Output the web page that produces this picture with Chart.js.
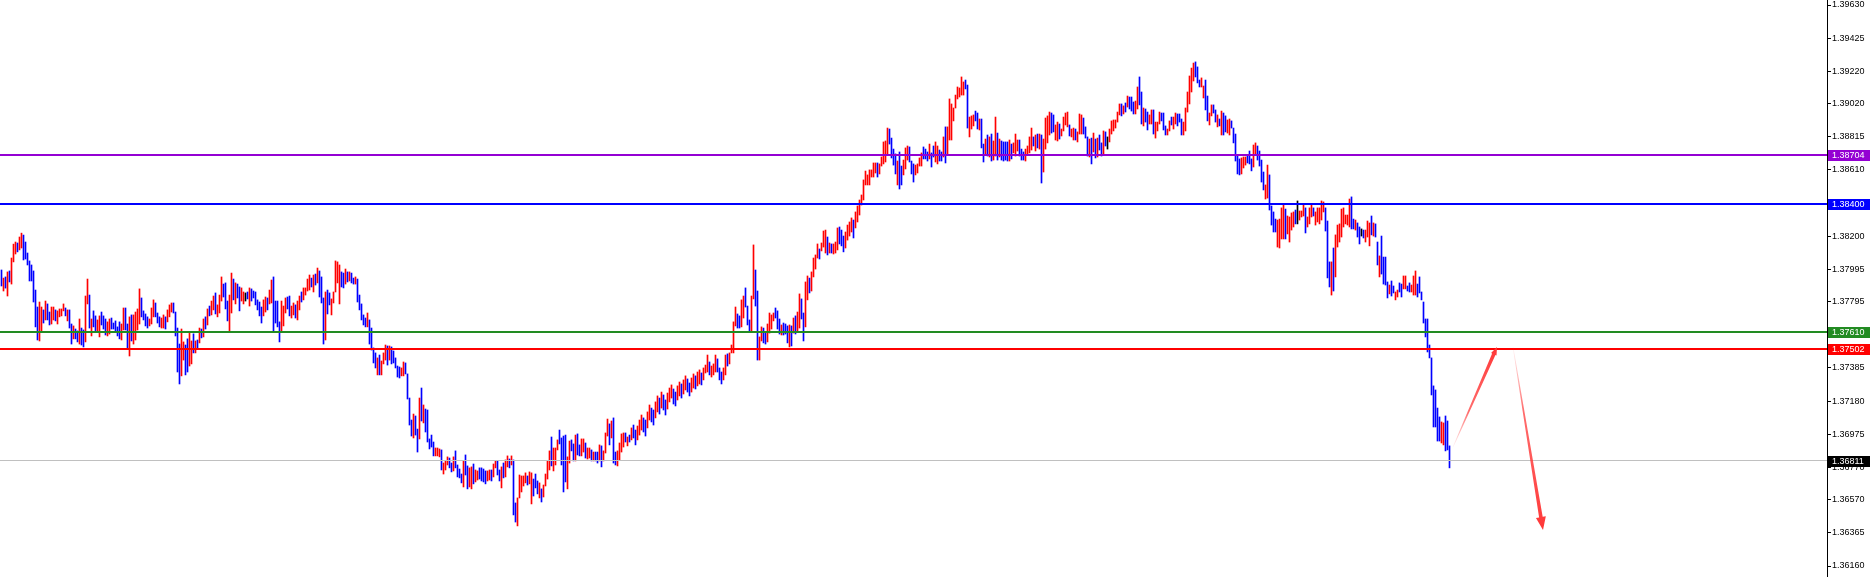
<!DOCTYPE html>
<html>
<head>
<meta charset="utf-8">
<script src="https://cdn.jsdelivr.net/npm/chart.js@4.4.1/dist/chart.umd.min.js"></script>
<style>
html,body{margin:0;padding:0;background:#fff;}
canvas{display:block;}
</style>
</head>
<body>
<canvas id="c" width="1873" height="577"></canvas>
<script>
// ---- data: bar highs / lows (price), direction (1 up, 0 down, 2 doji) ----
const highs = [
1.37991,1.37941,1.37948,1.37979,1.37985,1.38065,1.38151,1.38164,1.38158,1.38195,
1.38219,1.38207,1.38164,1.38096,1.38047,1.38022,1.37985,1.37867,1.37762,1.37793,
1.37762,1.37744,1.37799,1.37781,1.37731,1.37762,1.37762,1.37744,1.37738,1.37750,
1.37750,1.37781,1.37756,1.37744,1.37744,1.37657,1.37645,1.37626,1.37614,1.37688,
1.37632,1.37620,1.37830,1.37935,1.37836,1.37688,1.37738,1.37707,1.37682,1.37707,
1.37731,1.37707,1.37688,1.37670,1.37688,1.37694,1.37663,1.37676,1.37639,1.37670,
1.37657,1.37756,1.37756,1.37657,1.37701,1.37713,1.37713,1.37731,1.37750,1.37874,
1.37818,1.37738,1.37719,1.37701,1.37688,1.37756,1.37806,1.37787,1.37725,1.37701,
1.37694,1.37713,1.37701,1.37744,1.37775,1.37787,1.37787,1.37731,1.37632,1.37533,
1.37626,1.37546,1.37527,1.37565,1.37608,1.37552,1.37596,1.37552,1.37558,1.37632,
1.37626,1.37688,1.37701,1.37750,1.37768,
1.37799,1.37830,1.37849,1.37775,1.37836,1.37948,1.37904,1.37911,1.37799,1.37836,
1.37972,1.37935,1.37911,1.37904,1.37886,1.37880,1.37855,1.37849,1.37855,1.37880,
1.37874,1.37861,1.37855,1.37806,1.37793,1.37762,1.37806,1.37824,1.37818,1.37867,
1.37929,1.37948,1.37799,1.37799,1.37670,1.37799,1.37768,1.37818,1.37824,1.37830,
1.37768,1.37787,1.37775,1.37799,1.37830,1.37855,1.37880,1.37880,1.37935,1.37960,
1.37941,1.37960,1.37966,1.38003,1.37985,1.37948,1.37818,1.37855,1.37867,1.37849,
1.37812,1.37855,1.38047,1.38041,1.38022,1.37979,1.37972,1.37997,1.37979,1.37979,
1.37972,1.37941,1.37948,1.37935,1.37836,1.37781,1.37713,1.37694,1.37725,1.37682,
1.37632,1.37509,1.37478,1.37447,1.37465,1.37428,1.37478,1.37527,1.37521,1.37521,
1.37515,1.37490,1.37447,1.37397,1.37391,1.37385,1.37422,1.37416,1.37348,1.37199,
1.37063,1.37100,1.37088,1.37007,1.37199,
1.37261,1.37156,1.37131,1.37125,1.36946,1.36970,1.36927,1.36890,1.36890,1.36884,
1.36878,1.36797,1.36810,1.36835,1.36828,1.36797,1.36835,1.36872,1.36785,1.36760,
1.36729,1.36810,1.36847,1.36779,1.36767,1.36773,1.36791,1.36754,1.36748,1.36767,
1.36767,1.36760,1.36748,1.36748,1.36754,1.36754,1.36791,1.36810,1.36810,1.36754,
1.36773,1.36797,1.36816,1.36841,1.36822,1.36841,1.36816,1.36550,1.36581,1.36723,
1.36717,1.36717,1.36736,1.36717,1.36742,1.36736,1.36698,1.36729,1.36686,1.36674,
1.36637,1.36661,1.36729,1.36810,1.36872,1.36958,1.36890,1.36890,1.36940,1.37001,
1.36952,1.36964,1.36970,1.36835,1.36933,1.36940,1.36915,1.36970,1.36977,1.36909,
1.36946,1.36946,1.36921,1.36890,1.36890,1.36878,1.36865,1.36865,1.36865,1.36909,
1.36903,1.36872,1.36983,1.37069,1.37039,1.37057,1.37076,1.36865,1.36872,1.36921,
1.36977,1.36983,1.36983,1.36958,1.36970,
1.37014,1.37032,1.37001,1.37026,1.37063,1.37094,1.37076,1.37063,1.37113,1.37156,
1.37137,1.37125,1.37175,1.37212,1.37199,1.37236,1.37218,1.37187,1.37230,1.37261,
1.37280,1.37255,1.37236,1.37274,1.37298,1.37286,1.37311,1.37336,1.37317,1.37292,
1.37323,1.37348,1.37336,1.37360,1.37373,1.37354,1.37385,1.37403,1.37465,1.37422,
1.37397,1.37410,1.37465,1.37441,1.37385,1.37360,1.37385,1.37465,1.37472,1.37478,
1.37527,1.37670,1.37762,1.37719,1.37707,1.37806,1.37830,1.37880,1.37768,1.37682,
1.37830,1.38146,1.37991,1.37861,1.37577,1.37639,1.37632,1.37608,1.37657,1.37725,
1.37713,1.37725,1.37756,1.37738,1.37688,1.37651,1.37663,1.37657,1.37645,1.37651,
1.37645,1.37694,1.37707,1.37731,1.37843,1.37812,1.37725,1.37917,1.37954,1.37941,
1.37979,1.38065,1.38084,1.38152,1.38121,1.38158,1.38232,1.38238,1.38195,1.38158,
1.38152,1.38152,1.38164,1.38251,1.38257,
1.38238,1.38201,1.38226,1.38269,1.38288,1.38313,1.38300,1.38350,1.38387,1.38424,
1.38455,1.38548,1.38603,1.38579,1.38610,1.38610,1.38653,1.38653,1.38653,1.38647,
1.38690,1.38783,1.38789,1.38869,1.38863,1.38807,1.38739,1.38709,1.38665,1.38721,
1.38634,1.38671,1.38746,1.38758,1.38752,1.38665,1.38647,1.38640,1.38647,1.38684,
1.38715,1.38752,1.38739,1.38721,1.38770,1.38715,1.38758,1.38783,1.38758,1.38733,
1.38721,1.38814,1.38876,1.38876,1.39049,1.39018,1.38993,1.39073,1.39123,1.39117,
1.39185,1.39154,1.39166,1.39135,1.38937,1.38944,1.38950,1.38974,1.38962,1.38925,
1.38925,1.38770,1.38801,1.38826,1.38814,1.38832,1.38789,1.38937,1.38838,1.38801,
1.38789,1.38783,1.38783,1.38783,1.38795,1.38770,1.38777,1.38832,1.38795,1.38795,
1.38739,1.38721,1.38739,1.38758,1.38814,1.38869,1.38814,1.38826,1.38832,1.38832,
1.38826,1.38801,1.38931,1.38944,1.38968,
1.38962,1.38950,1.38888,1.38906,1.38894,1.38863,1.38937,1.38962,1.38968,1.38888,
1.38863,1.38869,1.38863,1.38845,1.38956,1.38950,1.38931,1.38876,1.38814,1.38801,
1.38807,1.38838,1.38801,1.38807,1.38826,1.38777,1.38851,1.38845,1.38814,1.38863,
1.38913,1.38919,1.38919,1.38968,1.39018,1.39018,1.39006,1.39024,1.39067,1.39061,
1.39061,1.39030,1.39036,1.39123,1.39185,1.39092,1.38993,1.38987,1.38968,1.38950,
1.38981,1.38981,1.38906,1.38906,1.38968,1.38962,1.38962,1.38882,1.38863,1.38913,
1.38937,1.38937,1.38962,1.38956,1.38956,1.38925,1.38906,1.38993,1.39092,1.39191,
1.39240,1.39271,1.39278,1.39247,1.39166,1.39179,1.39129,1.39166,1.39067,1.38962,
1.39012,1.39012,1.38981,1.38950,1.38925,1.38974,1.38962,1.38944,1.38919,1.38925,
1.38913,1.38869,1.38832,1.38696,1.38678,1.38684,1.38690,1.38690,1.38702,1.38727,
1.38678,1.38764,1.38777,1.38758,1.38727,
1.38671,1.38597,1.38517,1.38640,1.38579,1.38387,1.38350,1.38306,1.38300,1.38306,
1.38375,1.38399,1.38368,1.38325,1.38319,1.38344,1.38350,1.38362,1.38418,1.38356,
1.38356,1.38399,1.38375,1.38319,1.38375,1.38399,1.38375,1.38350,1.38375,1.38375,
1.38418,1.38412,1.38375,1.38294,1.38041,1.38041,1.38127,1.38208,1.38269,1.38276,
1.38368,1.38375,1.38331,1.38331,1.38430,1.38443,1.38306,1.38300,1.38282,1.38257,
1.38245,1.38238,1.38238,1.38294,1.38282,1.38325,1.38282,1.38276,1.38164,1.38078,
1.38201,1.38071,1.38071,1.37917,1.37898,1.37923,1.37892,1.37855,1.37867,1.37911,
1.37904,1.37954,1.37954,1.37892,1.37911,1.37898,1.37954,1.37985,1.37904,1.37948,
1.37855,1.37793,1.37688,1.37688,1.37527,1.37447,1.37274,1.37249,1.37137,1.37082,
1.37051,1.37045,1.37088,1.37057,1.36903
];
const lows = [
1.37892,1.37861,1.37879,1.37830,1.37917,1.37904,1.38041,1.38090,1.38103,1.38115,
1.38127,1.38053,1.38059,1.38022,1.37923,1.37923,1.37793,1.37639,1.37558,1.37552,
1.37608,1.37663,1.37682,1.37682,1.37651,1.37657,1.37682,1.37676,1.37657,1.37701,
1.37707,1.37738,1.37707,1.37676,1.37632,1.37533,1.37565,1.37565,1.37546,1.37533,
1.37527,1.37515,1.37546,1.37781,1.37632,1.37583,1.37639,1.37614,1.37608,1.37577,
1.37651,1.37626,1.37589,1.37583,1.37595,1.37626,1.37626,1.37614,1.37583,1.37565,
1.37558,1.37620,1.37620,1.37509,1.37459,1.37552,1.37533,1.37558,1.37620,1.37657,
1.37701,1.37682,1.37645,1.37632,1.37645,1.37657,1.37701,1.37701,1.37663,1.37639,
1.37632,1.37632,1.37626,1.37670,1.37701,1.37731,1.37725,1.37583,1.37360,1.37286,
1.37336,1.37434,1.37342,1.37360,1.37397,1.37410,1.37478,1.37478,1.37509,1.37540,
1.37571,1.37577,1.37626,1.37651,1.37707,
1.37713,1.37744,1.37719,1.37701,1.37725,1.37799,1.37824,1.37750,1.37676,1.37614,
1.37725,1.37806,1.37781,1.37818,1.37738,1.37799,1.37781,1.37799,1.37812,1.37768,
1.37799,1.37818,1.37775,1.37744,1.37707,1.37663,1.37707,1.37731,1.37744,1.37781,
1.37787,1.37614,1.37663,1.37639,1.37546,1.37608,1.37645,1.37725,1.37750,1.37707,
1.37694,1.37713,1.37694,1.37682,1.37744,1.37793,1.37806,1.37836,1.37861,1.37867,
1.37886,1.37855,1.37898,1.37911,1.37824,1.37787,1.37533,1.37558,1.37719,1.37775,
1.37713,1.37787,1.37855,1.37911,1.37781,1.37886,1.37880,1.37904,1.37917,1.37923,
1.37911,1.37904,1.37904,1.37793,1.37744,1.37682,1.37651,1.37639,1.37639,1.37533,
1.37496,1.37416,1.37385,1.37342,1.37342,1.37342,1.37410,1.37434,1.37403,1.37434,
1.37410,1.37416,1.37385,1.37329,1.37323,1.37336,1.37336,1.37348,1.37193,1.37032,
1.36964,1.36952,1.36970,1.36865,1.36946,
1.37057,1.37045,1.36989,1.36927,1.36884,1.36896,1.36841,1.36841,1.36841,1.36835,
1.36754,1.36729,1.36754,1.36785,1.36767,1.36742,1.36748,1.36767,1.36711,1.36705,
1.36674,1.36649,1.36723,1.36637,1.36649,1.36637,1.36668,1.36680,1.36692,1.36698,
1.36686,1.36680,1.36668,1.36686,1.36692,1.36686,1.36711,1.36767,1.36723,1.36686,
1.36643,1.36705,1.36711,1.36773,1.36767,1.36785,1.36476,1.36432,1.36408,1.36581,
1.36618,1.36655,1.36674,1.36661,1.36668,1.36544,1.36593,1.36643,1.36606,1.36581,
1.36556,1.36587,1.36655,1.36698,1.36754,1.36779,1.36748,1.36785,1.36878,1.36915,
1.36785,1.36618,1.36680,1.36637,1.36797,1.36872,1.36810,1.36810,1.36847,1.36841,
1.36841,1.36865,1.36828,1.36822,1.36828,1.36810,1.36810,1.36810,1.36797,1.36810,
1.36773,1.36810,1.36859,1.36964,1.36909,1.36952,1.36797,1.36785,1.36779,1.36816,
1.36865,1.36896,1.36927,1.36903,1.36927,
1.36940,1.36952,1.36909,1.36940,1.36970,1.37001,1.36989,1.36964,1.37014,1.37063,
1.37051,1.37032,1.37076,1.37113,1.37100,1.37137,1.37125,1.37094,1.37131,1.37175,
1.37199,1.37162,1.37150,1.37187,1.37212,1.37199,1.37224,1.37249,1.37236,1.37212,
1.37236,1.37261,1.37255,1.37274,1.37286,1.37280,1.37311,1.37354,1.37360,1.37342,
1.37329,1.37342,1.37360,1.37360,1.37311,1.37286,1.37311,1.37342,1.37397,1.37410,
1.37478,1.37478,1.37645,1.37632,1.37632,1.37639,1.37694,1.37762,1.37651,1.37608,
1.37614,1.37812,1.37768,1.37434,1.37434,1.37552,1.37540,1.37533,1.37546,1.37601,
1.37626,1.37676,1.37694,1.37626,1.37595,1.37589,1.37589,1.37595,1.37540,1.37515,
1.37521,1.37601,1.37595,1.37614,1.37632,1.37688,1.37552,1.37639,1.37806,1.37849,
1.37861,1.37948,1.37997,1.38065,1.38059,1.38109,1.38133,1.38096,1.38084,1.38096,
1.38096,1.38090,1.38096,1.38115,1.38152,
1.38140,1.38103,1.38127,1.38176,1.38201,1.38226,1.38189,1.38251,1.38288,1.38331,
1.38393,1.38424,1.38517,1.38517,1.38517,1.38566,1.38566,1.38591,1.38566,1.38585,
1.38634,1.38647,1.38659,1.38702,1.38770,1.38684,1.38640,1.38585,1.38517,1.38492,
1.38517,1.38579,1.38616,1.38671,1.38659,1.38585,1.38535,1.38579,1.38591,1.38634,
1.38634,1.38678,1.38678,1.38665,1.38678,1.38628,1.38690,1.38659,1.38647,1.38665,
1.38665,1.38690,1.38653,1.38702,1.38795,1.38795,1.38913,1.38993,1.39049,1.39061,
1.39073,1.39073,1.39111,1.38869,1.38814,1.38863,1.38882,1.38913,1.38863,1.38857,
1.38746,1.38659,1.38709,1.38696,1.38690,1.38665,1.38671,1.38696,1.38671,1.38690,
1.38671,1.38665,1.38671,1.38665,1.38665,1.38678,1.38715,1.38696,1.38727,1.38696,
1.38671,1.38671,1.38665,1.38702,1.38715,1.38733,1.38758,1.38727,1.38746,1.38739,
1.38529,1.38597,1.38739,1.38777,1.38826,
1.38838,1.38845,1.38795,1.38789,1.38801,1.38820,1.38851,1.38888,1.38876,1.38820,
1.38814,1.38795,1.38795,1.38783,1.38832,1.38832,1.38832,1.38807,1.38696,1.38690,
1.38647,1.38721,1.38684,1.38690,1.38733,1.38696,1.38709,1.38758,1.38739,1.38783,
1.38832,1.38851,1.38869,1.38906,1.38950,1.38944,1.38956,1.38968,1.38999,1.38987,
1.38974,1.38956,1.38956,1.38987,1.39012,1.38894,1.38882,1.38906,1.38857,1.38894,
1.38894,1.38832,1.38807,1.38851,1.38894,1.38913,1.38857,1.38826,1.38826,1.38851,
1.38888,1.38863,1.38894,1.38882,1.38906,1.38826,1.38826,1.38851,1.38968,1.39018,
1.39092,1.39160,1.39185,1.39148,1.39123,1.39123,1.39055,1.38981,1.38913,1.38888,
1.38944,1.38962,1.38906,1.38876,1.38882,1.38826,1.38826,1.38845,1.38838,1.38826,
1.38869,1.38777,1.38665,1.38585,1.38579,1.38585,1.38622,1.38640,1.38653,1.38647,
1.38604,1.38628,1.38702,1.38671,1.38634,
1.38535,1.38486,1.38430,1.38436,1.38362,1.38269,1.38226,1.38226,1.38133,1.38127,
1.38183,1.38183,1.38183,1.38214,1.38164,1.38238,1.38257,1.38276,1.38276,1.38300,
1.38319,1.38325,1.38220,1.38257,1.38276,1.38319,1.38325,1.38269,1.38288,1.38276,
1.38300,1.38350,1.38232,1.37942,1.37886,1.37836,1.37861,1.37948,1.38133,1.38164,
1.38195,1.38257,1.38276,1.38269,1.38257,1.38245,1.38245,1.38238,1.38195,1.38152,
1.38201,1.38189,1.38164,1.38195,1.38140,1.38208,1.38201,1.38195,1.38022,1.37948,
1.37966,1.37904,1.37898,1.37818,1.37843,1.37830,1.37849,1.37806,1.37824,1.37855,
1.37824,1.37874,1.37874,1.37861,1.37855,1.37855,1.37836,1.37836,1.37824,1.37849,
1.37806,1.37663,1.37577,1.37484,1.37447,1.37218,1.37020,1.37020,1.36933,1.36933,
1.36921,1.36909,1.36872,1.36878,1.36767
];
const dirs = [
0,1,0,1,0,1,1,1,0,1, 1,0,0,0,0,0,0,0,0,1, 1,0,1,0,0,1,1,0,1,1, 1,1,0,1,0,0,1,0,0,1,
0,0,1,1,0,1,0,0,1,1, 0,0,0,1,1,0,0,0,0,0, 1,1,0,0,1,0,1,1,1,1, 0,0,0,0,1,1,1,0,0,0,
1,1,0,1,1,1,0,0,0,0, 1,1,0,0,1,1,0,1,0,1, 0,1,0,1,0,
1,1,0,1,1,1,0,0,0,1, 1,0,1,0,0,1,1,2,0,1, 0,0,0,0,0,0,1,1,0,1, 1,0,0,0,0,1,1,1,0,0,
1,1,0,1,1,0,1,1,1,1, 0,1,0,1,0,0,0,1,0,0, 1,1,1,1,1,0,0,1,0,1, 0,0,1,0,0,0,0,0,1,0,
0,0,0,1,0,1,1,1,0,1, 0,0,0,0,0,1,1,0,0,0, 0,1,0,0,1,
0,1,0,0,0,0,0,1,1,1, 0,1,1,1,0,0,1,0,0,0, 0,1,0,0,1,1,0,1,1,0, 0,0,0,1,1,0,1,1,0,0,
1,0,1,1,0,1,0,0,1,1, 1,1,1,0,1,1,0,0,0,1, 0,1,1,1,1,0,1,1,1,0, 0,0,0,1,1,0,0,1,0,0,
1,1,0,1,1,0,1,0,0,1, 0,1,1,1,0,1,0,0,1,1, 1,1,0,1,0,
1,0,0,1,1,1,0,0,1,1, 0,0,1,1,0,1,0,0,1,1, 1,0,0,1,1,0,1,1,0,0, 1,1,0,1,1,0,1,
1,1,0,1,1,1,0,0,0,1, 1,0,1,1,1,1,0,0,1,1, 0,0,0,1,1,0,0,1,1,0, 0,1,1,1,1,0,0,0,1,0,
0,0,1,0,1,0,1,1,0,0, 1,1,0,1,1,1,1,0,1,1, 1,0,1,0,1,1,1,0,
0,0,1,1,1,1,0,1,1,1,
1,1,1,1,1,1,1,1,0,1, 1,1,1,1,0,0,0,0,1,0, 0,1,1,1,0,0,0,1,1,1, 1,0,0,0,1,0,0,1,1,0,
0,1,0,1,1,1,1,1,1,1, 1,1,0,0,1,1,1,0,0,1, 0,0,1,0,1,0,1,1,0,1, 0,0,0,0,1,0,1,1,1,0,
0,0,1,1,1,1,0,1,0,1, 0,1,1,1,1,
0,0,1,1,0,1,1,1,1,0, 1,1,0,1,1,1,0,0,0,1, 0,1,0,1,0,0,1,0,2,1, 1,1,1,1,1,0,1,0,1,0,
0,0,1,1,0,0,1,0,0,1, 1,0,1,1,1,0,0,0,1,1, 0,1,1,0,0,0,1,1,1,1, 1,1,0,0,0,1,1,0,0,1,
1,0,0,1,0,1,0,0,1,1, 0,0,0,0,0,1,1,1,0,0, 0,1,1,0,0,
0,0,1,1,0,0,0,0,1,1, 1,1,0,1,1,1,1,0,2,1, 1,1,0,1,1,1,0,1,1,1, 1,1,0,0,0,1,0,1,1,1,
1,1,1,1,1,0,0,1,0,0, 2,0,1,1,1,0,1,0,0,1, 0,0,0,0,1,0,0,1,1,0, 0,1,1,0,0,1,1,1,0,0,
0,0,0,0,0,0,0,0,0,0, 1,1,0,0,0
];
// ---- axis & annotations ----
const yTicks = [1.39630,1.39425,1.39220,1.39020,1.38815,1.38610,1.38405,1.38200,1.37995,1.37795,
                1.37590,1.37385,1.37180,1.36975,1.36770,1.36570,1.36365,1.36160];
const yMin = 1.36092, yMax = 1.39661;
const slotsShown = 913.5;
const levelPrices = [1.38704, 1.38400, 1.37610, 1.37502, 1.36811];
const levelColors = ['#9400D3', '#0000FF', '#228B22', '#FF0000', '#C0C0C0'];
const levelTagColors = ['#9400D3', '#0000FF', '#228B22', '#FF0000', '#000000'];
const levelWidths = [2, 2, 2, 2, 1];
const arrowFrom = [[725.75, 1.36896], [755.75, 1.37515]];
const arrowTo   = [[747.75, 1.37515], [770.75, 1.36383]];

const barColors = dirs.map(d => d === 1 ? '#FF0000' : (d === 2 ? '#000000' : '#0000FF'));
const barData = highs.map((h, i) => ({x: i, y: [lows[i], h]}));

function drawArrow(ctx, x1, y1, x2, y2, w0, w1, headLen, headW) {
  const dx = x2 - x1, dy = y2 - y1, L = Math.hypot(dx, dy);
  const ux = dx / L, uy = dy / L, nx = -uy, ny = ux;
  const bx = x2 - ux * headLen, by = y2 - uy * headLen;
  const g = ctx.createLinearGradient(x1, y1, x2, y2);
  g.addColorStop(0, 'rgba(255,70,70,0.05)');
  g.addColorStop(0.35, 'rgba(255,60,60,0.75)');
  g.addColorStop(1, 'rgba(255,55,55,1)');
  ctx.fillStyle = g;
  ctx.beginPath();
  ctx.moveTo(x1 + nx * w0 / 2, y1 + ny * w0 / 2);
  ctx.lineTo(bx + nx * w1 / 2, by + ny * w1 / 2);
  ctx.lineTo(bx + nx * headW / 2, by + ny * headW / 2);
  ctx.lineTo(x2, y2);
  ctx.lineTo(bx - nx * headW / 2, by - ny * headW / 2);
  ctx.lineTo(bx - nx * w1 / 2, by - ny * w1 / 2);
  ctx.lineTo(x1 - nx * w0 / 2, y1 - ny * w0 / 2);
  ctx.closePath();
  ctx.fill();
}

const overlay = {
  id: 'overlay',
  afterLayout(chart) {
    // use the full canvas height for the plot (no label padding at the ends)
    const H = chart.height;
    const a = chart.chartArea;
    a.top = 0; a.bottom = H; a.height = H;
    ['x', 'y'].forEach(id => {
      const s = chart.scales[id];
      s.top = 0; s.bottom = H; s.height = H;
      s.configure();
    });
  },
  afterDatasetsDraw(chart) {
    const {ctx, chartArea: a, scales: {x, y}} = chart;
    ctx.save();
    levelPrices.forEach((p, k) => {
      const py = y.getPixelForValue(p);
      ctx.fillStyle = levelColors[k];
      const w = levelWidths[k];
      ctx.fillRect(a.left, Math.round(py - w / 2), a.right - a.left, w);
    });
    arrowFrom.forEach((f, k) => {
      const t = arrowTo[k];
      drawArrow(ctx, x.getPixelForValue(f[0]), y.getPixelForValue(f[1]),
                x.getPixelForValue(t[0]), y.getPixelForValue(t[1]),
                0.6, 3.6, k === 0 ? 8 : 13, k === 0 ? 6 : 10);
    });
    ctx.restore();
  },
  afterDraw(chart) {
    const {ctx, chartArea: a, scales: {y}} = chart;
    ctx.save();
    ctx.font = '9px "Liberation Sans", Arial, sans-serif';
    ctx.textBaseline = 'middle';
    levelPrices.forEach((p, k) => {
      const py = Math.round(y.getPixelForValue(p));
      ctx.fillStyle = levelTagColors[k];
      ctx.fillRect(a.right + 1, py - 5, 42, 11);
      ctx.fillStyle = '#FFFFFF';
      ctx.fillText(p.toFixed(5), a.right + 5, py + 0.5);
    });
    ctx.restore();
  }
};

new Chart(document.getElementById('c'), {
  type: 'bar',
  data: {
    datasets: [{
      data: barData,
      backgroundColor: barColors,
      borderWidth: 0,
      barThickness: 1,
      minBarLength: 1
    }]
  },
  options: {
    responsive: false,
    devicePixelRatio: 1,
    animation: false,
    events: [],
    layout: {padding: 0, autoPadding: false},
    plugins: {legend: {display: false}, tooltip: {enabled: false}},
    scales: {
      x: {
        type: 'linear', display: false, offset: false,
        min: -0.75, max: -0.75 + slotsShown
      },
      y: {
        position: 'right',
        min: yMin, max: yMax,
        afterBuildTicks: s => { s.ticks = yTicks.map(v => ({value: v})); },
        afterFit: s => { s.width = 46; s.paddingTop = 0; s.paddingBottom = 0; },
        border: {display: true, color: '#000000', width: 1},
        grid: {drawOnChartArea: false, drawTicks: true, tickLength: 4, color: '#000000'},
        ticks: {
          autoSkip: false, padding: 1, color: '#000000',
          font: {family: '"Liberation Sans", Arial, sans-serif', size: 9},
          callback: v => Number(v).toFixed(5)
        }
      }
    }
  },
  plugins: [overlay]
});
</script>
</body>
</html>
